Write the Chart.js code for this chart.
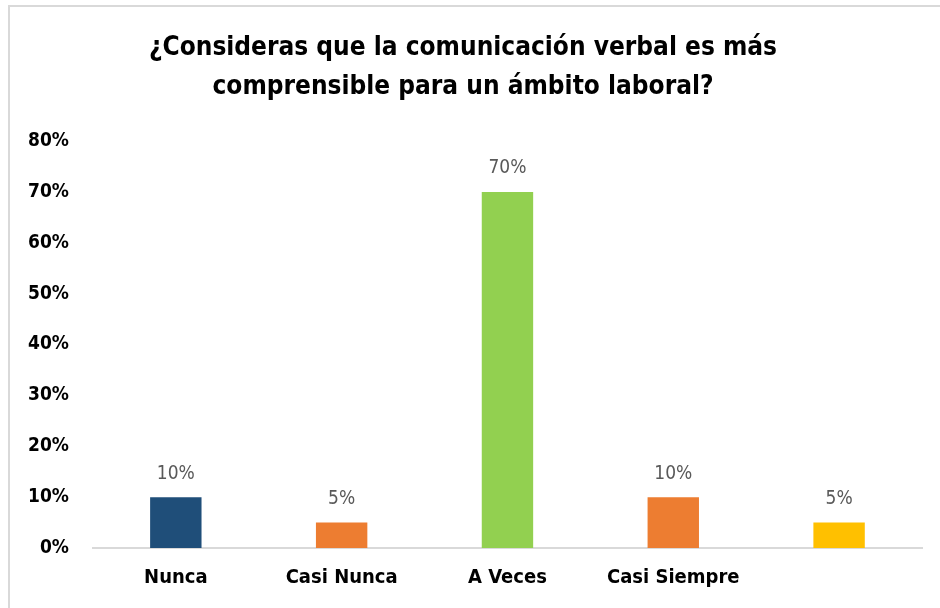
<!DOCTYPE html>
<html>
<head>
<meta charset="utf-8">
<script src="https://cdn.jsdelivr.net/npm/chart.js@4.4.0/dist/chart.umd.min.js"></script>
<style>
  body { margin: 0; background: #fff; }
  #frame { position: absolute; left: 8px; top: 5px; width: 940px; height: 610px; border-left: 2px solid #d9d9d9; border-top: 2px solid #d9d9d9; }
  #wrap { position: absolute; left: 0; top: 0; width: 940px; height: 608px; }
</style>
</head>
<body>
<div id="frame"></div>
<div id="wrap"><canvas id="chart"></canvas></div>
<script>
const categories = ["Nunca", "Casi Nunca", "A Veces", "Casi Siempre", ""]
const values = [10, 5, 70, 10, 5]
const barColors = ["#1F4E79", "#ED7D31", "#92D050", "#ED7D31", "#FFC000"]
const yTicks = [0, 10, 20, 30, 40, 50, 60, 70, 80]

const fontFam = "'Liberation Sans Narrow', 'DejaVu Sans Condensed', sans-serif"

// labels above each bar
const valueLabels = {
  id: "valueLabels",
  afterDatasetsDraw(chart) {
    const ctx = chart.ctx
    const meta = chart.getDatasetMeta(0)
    ctx.save()
    ctx.fillStyle = "#595959"
    ctx.font = "19px " + fontFam
    ctx.textAlign = "center"
    ctx.textBaseline = "bottom"
    meta.data.forEach((bar, i) => {
      ctx.fillText(values[i] + "%", bar.x, bar.y - 14)
    })
    ctx.restore()
  }
}

new Chart(document.getElementById("chart"), {
  type: "bar",
  data: {
    labels: categories,
    datasets: [{
      data: values,
      backgroundColor: barColors,
      barPercentage: 0.31,
      categoryPercentage: 1
    }]
  },
  options: {
    responsive: true,
    maintainAspectRatio: false,
    animation: false,
    layout: { padding: { left: 4, right: 18, top: 11, bottom: 0 } },
    plugins: {
      legend: { display: false },
      tooltip: { enabled: false },
      title: {
        display: true,
        text: ["¿Consideras que la comunicación verbal es más", "comprensible para un ámbito laboral?"],
        color: "#000",
        font: { size: 26, weight: "bold", family: fontFam, lineHeight: 1.5 },
        padding: { top: 18, bottom: 34 }
      }
    },
    scales: {
      x: {
        grid: { display: false, drawTicks: false },
        border: { color: "#d9d9d9", width: 2 },
        ticks: { color: "#000", font: { size: 20, weight: "bold", family: fontFam }, padding: 18 }
      },
      y: {
        min: 0,
        max: 80,
        afterBuildTicks: (axis) => { axis.ticks = yTicks.map(v => ({ value: v })) },
        grid: { display: false, drawTicks: false },
        border: { display: false },
        ticks: {
          color: "#000",
          font: { size: 19, weight: "bold", family: fontFam },
          padding: 24,
          callback: (v) => v + "%"
        }
      }
    }
  },
  plugins: [valueLabels]
})
</script>
</body>
</html>
